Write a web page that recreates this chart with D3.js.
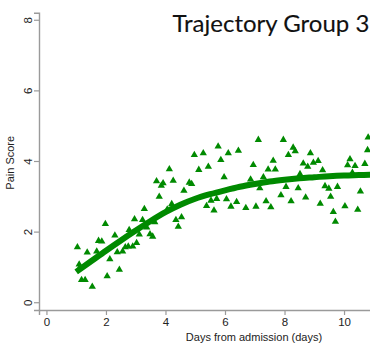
<!DOCTYPE html>
<html>
<head>
<meta charset="utf-8">
<script src="https://cdn.jsdelivr.net/npm/d3@7"></script>
<style>
  html, body { margin: 0; padding: 0; background: #fff; }
  svg { display: block; }
</style>
</head>
<body>
<svg id="chart" width="370" height="348"></svg>
<script>
// Observed pain scores (day, score)
const obsDays = [
  1.04, 1.10, 1.12, 1.18, 1.30, 1.37, 1.54, 1.69, 1.75, 1.86, 1.98, 2.04, 2.13, 2.30, 2.38,
  2.45, 2.56, 2.65, 2.75, 2.78, 2.90, 2.96, 3.03, 3.12, 3.23, 3.29, 3.37, 3.48, 3.57, 3.64,
  3.70, 3.79, 3.86, 3.92, 4.06, 4.13, 4.21, 4.26, 4.35, 4.43, 4.54, 4.62, 4.80, 4.88, 4.97,
  5.12, 5.27, 5.38, 5.44, 5.53, 5.63, 5.72, 5.77, 5.86, 5.97, 6.05, 6.11, 6.20, 6.39, 6.45,
  6.70, 6.86, 6.95, 7.04, 7.12, 7.17, 7.29, 7.38, 7.45, 7.54, 7.62, 7.69, 7.88, 7.96, 8.05,
  8.13, 8.22, 8.29, 8.36, 8.46, 8.52, 8.63, 8.71, 8.78, 8.87, 8.97, 9.13, 9.20, 9.28, 9.36,
  9.49, 9.55, 9.64, 9.71, 9.78, 10.03, 10.12, 10.20, 10.28, 10.37, 10.46, 10.55, 10.70, 10.79, 10.81
];
const obsScores = [
  1.56, 1.07, 0.98, 0.63, 0.63, 1.41, 0.44, 1.44, 1.74, 1.72, 2.22, 0.74, 1.22, 1.89, 1.42,
  0.92, 1.44, 1.56, 1.58, 2.05, 1.58, 2.35, 1.68, 1.92, 2.33, 2.64, 2.12, 1.93, 1.86, 2.27,
  3.43, 2.99, 3.30, 3.37, 2.63, 3.77, 2.78, 3.44, 2.33, 2.14, 2.41, 3.16, 3.39, 3.35, 4.17,
  3.75, 4.22, 2.73, 3.84, 2.88, 2.60, 2.93, 4.41, 4.03, 3.54, 2.92, 4.22, 2.71, 2.84, 4.29,
  2.67, 3.48, 3.89, 2.71, 4.60, 3.23, 3.54, 2.86, 3.76, 2.69, 4.01, 3.76, 3.03, 4.60, 3.27,
  4.17, 2.86, 4.38, 4.28, 3.23, 3.63, 3.93, 2.97, 3.84, 4.22, 3.95, 4.00, 2.79, 3.74, 3.29,
  3.22, 2.99, 2.56, 2.28, 3.27, 2.72, 3.88, 4.05, 3.67, 3.86, 2.62, 3.14, 3.92, 4.31, 4.67
];

// Fitted trajectory (day, predicted score)
const fitDays = [1.0, 1.5, 2.0, 2.5, 3.0, 3.5, 4.0, 4.5, 5.0, 5.5, 6.0, 6.5, 7.0, 7.5, 8.0, 8.5, 9.0, 9.5, 10.0, 10.5, 11.0, 11.3];
const fitScores = [0.86, 1.16, 1.46, 1.75, 2.03, 2.30, 2.55, 2.76, 2.93, 3.06, 3.17, 3.27, 3.35, 3.42, 3.47, 3.51, 3.54, 3.57, 3.59, 3.60, 3.61, 3.61];

// Axis ticks and labels
const xTicks = [0, 2, 4, 6, 8, 10];
const yTicks = [0, 2, 4, 6, 8];
const titleText = "Trajectory Group 3";
const xTitle = "Days from admission (days)";
const yTitle = "Pain Score";

const green = "#008a00";
const axisGrey = "#9a9a9a";

const svg = d3.select("#chart");

const x = d3.scaleLinear().domain([-0.25, 11.2]).range([39, 379.75]);
const y = d3.scaleLinear().domain([-0.22, 8.2]).range([310, 12.7]);

// x axis
const gx = svg.append("g").attr("transform", "translate(0,310)")
  .call(d3.axisBottom(x).tickValues(xTicks).tickSizeOuter(0).tickSize(5).tickPadding(3)
    .tickFormat(d3.format("d")));
gx.select(".domain").attr("stroke", axisGrey).attr("stroke-width", 1.4);
gx.selectAll(".tick line").attr("stroke", axisGrey).attr("stroke-width", 1.2);
gx.selectAll(".tick text").attr("fill", "#222").attr("font-size", 11.5)
  .attr("font-family", "'Liberation Sans', Arial, sans-serif");

// y axis with rotated labels
const gy = svg.append("g").attr("transform", "translate(39,0)")
  .call(d3.axisLeft(y).tickValues(yTicks).tickSizeOuter(0).tickSize(5).tickFormat(d3.format("d")));
gy.select(".domain").attr("stroke", axisGrey).attr("stroke-width", 1.4);
gy.selectAll(".tick line").attr("stroke", axisGrey).attr("stroke-width", 1.2);
gy.selectAll(".tick text")
  .attr("fill", "#222").attr("font-size", 11.5)
  .attr("font-family", "'Liberation Sans', Arial, sans-serif")
  .attr("x", null).attr("dy", null)
  .attr("text-anchor", "middle")
  .attr("transform", "translate(-11,0) rotate(-90) translate(0,4)");

// axis titles
svg.append("text")
  .attr("x", 254).attr("y", 341)
  .attr("text-anchor", "middle")
  .attr("font-family", "'Liberation Sans', Arial, sans-serif")
  .attr("font-size", 11).attr("fill", "#222")
  .text(xTitle);

svg.append("text")
  .attr("transform", `translate(14,${y(3.95)}) rotate(-90)`)
  .attr("text-anchor", "middle")
  .attr("font-family", "'Liberation Sans', Arial, sans-serif")
  .attr("font-size", 11).attr("fill", "#222")
  .text(yTitle);

// chart title
svg.append("text")
  .attr("x", 172.5).attr("y", 31.5)
  .attr("font-family", "Lato, 'Open Sans', sans-serif")
  .attr("font-size", 24).attr("fill", "#111")
  .attr("stroke", "#111").attr("stroke-width", 0.12)
  .text(titleText);

// observed points
const pts = obsDays.map((d, i) => [d, obsScores[i]]);
svg.append("g").selectAll("path")
  .data(pts).join("path")
  .attr("d", d3.symbol(d3.symbolTriangle, 23))
  .attr("transform", d => `translate(${x(d[0])},${y(d[1])})`)
  .attr("fill", green);

// fitted trajectory
const fit = fitDays.map((d, i) => [d, fitScores[i]]);
svg.append("path")
  .datum(fit)
  .attr("d", d3.line().x(d => x(d[0])).y(d => y(d[1])).curve(d3.curveMonotoneX))
  .attr("fill", "none")
  .attr("stroke", green)
  .attr("stroke-width", 6)
  .attr("stroke-linecap", "butt");
</script>
</body>
</html>
